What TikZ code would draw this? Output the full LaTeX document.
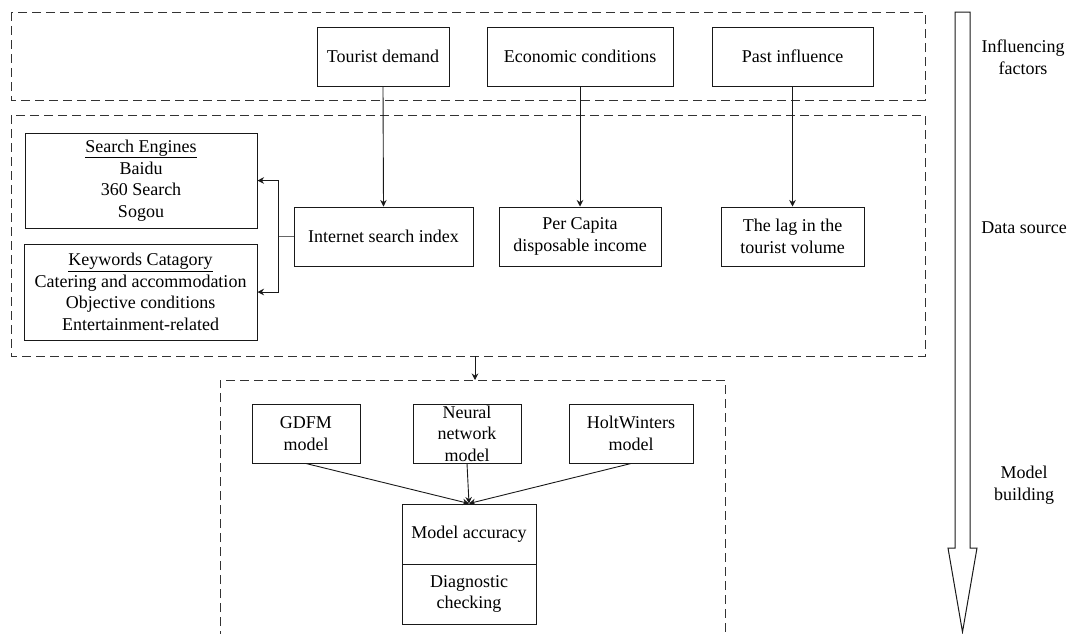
\documentclass[tikz,border=0pt]{standalone}
\usepackage{fontspec}
\setmainfont{Liberation Serif}
\usetikzlibrary{arrows.meta}
\begin{document}
\begin{tikzpicture}[x=1pt,y=-1pt,
  every node/.style={font=\fontsize{18}{21.6}\selectfont, text=black},
  box/.style={draw=black!90, line width=1pt, inner sep=0pt, align=center},
  dashbox/.style={draw=black!80, line width=0.9pt, dash pattern=on 9pt off 5pt},
  conn/.style={draw=black!90, line width=0.9pt},
  arr/.style={conn, -{Stealth[length=6.5pt,width=6.5pt]}},
  lbl/.style={align=center}]
\useasboundingbox (0,0) rectangle (1069,633);
% dashed groups
\draw[dashbox] (11,12) rectangle (925,100);
\draw[dashbox] (11,115) rectangle (925,356);
\draw[dashbox] (220,640) -- (220,380) -- (725,380) -- (725,640);
% top row
\node[box, minimum width=132pt, minimum height=59pt] (td) at (383,56.5) {Tourist demand};
\node[box, minimum width=186pt, minimum height=59pt] (ec) at (580,56.5) {Economic conditions};
\node[box, minimum width=161pt, minimum height=59pt] (pi) at (792.5,56.5) {Past influence};
% second row
\node[box, minimum width=179pt, minimum height=59pt] (in) at (383.5,236.5) {Internet search index};
\node[box, minimum width=162pt, minimum height=59pt] (pc) at (580,236.5) {Per Capita\\disposable income};
\node[box, minimum width=143pt, minimum height=59pt] (lag) at (792.5,236.5) {The lag in the\\tourist volume};
\node[box, minimum width=232pt, minimum height=95pt] (se) at (141,180.5) {\underline{Search Engines}\\Baidu\\360 Search\\Sogou};
\node[box, minimum width=233pt, minimum height=96pt] (kw) at (140.5,292) {\underline{Keywords Catagory}\\Catering and accommodation\\Objective conditions\\Entertainment-related};
% model row
\node[box, minimum width=108pt, minimum height=59pt] (gd) at (306,433.5) {GDFM\\model};
\node[box, minimum width=108pt, minimum height=59pt] (nn) at (467,433.5) {Neural\\network\\model};
\node[box, minimum width=124pt, minimum height=59pt] (hw) at (631,433.5) {HoltWinters\\model};
\node[box, minimum width=134pt, minimum height=60pt] (ma) at (469,534) {Model accuracy};
\node[box, minimum width=134pt, minimum height=60pt] (dc) at (469,594) {Diagnostic\\checking};
% connectors
\draw[arr] (td.south) -- (in.north);
\draw[arr] (ec.south) -- (pc.north);
\draw[arr] (pi.south) -- (lag.north);
\coordinate (br) at (278,236.5);
\draw[conn, draw=black!60] (in.west) -- (br);
\draw[arr] (br) |- (se.east);
\draw[arr] (br) |- (kw.east);
\coordinate (g2) at (475,356);
\coordinate (g3) at (475,380);
\draw[arr] (g2) -- (g3);
\draw[arr] (gd.south) -- (ma.north);
\draw[arr] (nn.south) -- (ma.north);
\draw[arr] (hw.south) -- (ma.north);
% big hollow arrow
\draw[draw=black!90, line width=1pt, line join=miter]
  (955,12) -- (970,12) -- (970,548) -- (977,548) -- (962.5,632) -- (948,548) -- (955,548) -- cycle;
% stage labels
\node[lbl] (l1) at (1023,57) {Influencing\\factors};
\node[lbl] (l2) at (1024,228) {Data source};
\node[lbl] (l3) at (1024,485) {Model\\building};
\end{tikzpicture}
\end{document}
